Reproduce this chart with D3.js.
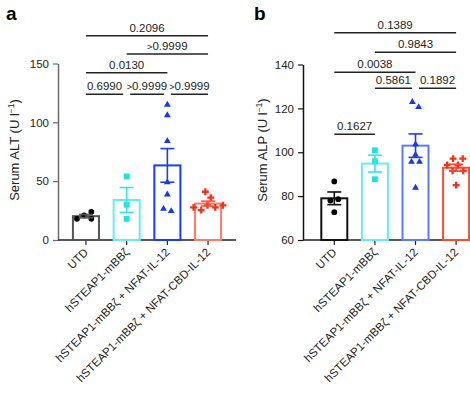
<!DOCTYPE html>
<html>
<head>
<meta charset="utf-8">
<script src="https://cdn.jsdelivr.net/npm/d3@7"></script>
<style>
  body { margin: 0; background: #fff; }
  svg { display: block; font-family: "Liberation Sans", Arial, sans-serif; }
</style>
</head>
<body>
<script>
// categories shared by both panels
const categories = ["UTD", "hSTEAP1-mBB\u03b6", "hSTEAP1-mBB\u03b6 + NFAT-IL-12", "hSTEAP1-mBB\u03b6 + NFAT-CBD-IL-12"];

// panel a: serum ALT, one array per group
const altUTD = [21, 18, 18, 24];
const altMBBz = [54, 30, 18];
const altNfat = [115, 106, 84, 49, 38.7, 24.6, 26.5];
const altCbd = [41, 36, 27.7, 29.5, 27.7, 29.5, 25.4];
const altTicks = [0, 50, 100, 150];
const altPairs = [[0, 1], [1, 2], [2, 3], [0, 2], [1, 3], [0, 3]];
const altP = ["0.6990", ">0.9999", ">0.9999", "0.0130", ">0.9999", "0.2096"];

// panel b: serum ALP
const alpUTD = [86.7, 78.6, 78, 72.7];
const alpMBBz = [100.9, 95.9, 87.7];
const alpNfat = [122.9, 120.6, 103.6, 98.9, 95.6, 95.6, 83.8];
const alpCbd = [97.1, 97.1, 94.2, 94.2, 91.5, 91.5, 85];
const alpTicks = [60, 80, 100, 120, 140];
const alpPairs = [[0, 1], [1, 2], [2, 3], [0, 2], [1, 3], [0, 3]];
const alpP = ["0.1627", "0.5861", "0.1892", "0.0038", "0.9843", "0.1389"];

const W = 470, H = 395;
const svg = d3.select("body").append("svg")
    .attr("width", W)
    .attr("height", H);

// symbols + colours per group
const symbols = [d3.symbolCircle, d3.symbolSquare, d3.symbolTriangle, d3.symbolCross];
const symSize = [26, 34, 20, 26];
const markColor = ["#000000", "#19e3e3", "#1236ff", "#ff2d14"];

function drawPanel(opt) {
    const g = svg.append("g");
    const y = d3.scaleLinear().domain(opt.domain).range([240, opt.yTop]);
    const x = d3.scaleBand().domain(categories)
        .range(opt.xRange)
        .paddingInner(0.36)
        .paddingOuter(0.18);

    // y axis
    const yAxis = g.append("g")
        .attr("transform", `translate(${opt.axisX},0)`)
        .call(d3.axisLeft(y).tickValues(opt.ticks).tickSize(5).tickSizeOuter(0).tickPadding(4));
    yAxis.select(".domain").attr("stroke", opt.axisColor).attr("stroke-width", 1.5);
    yAxis.selectAll(".tick line").attr("stroke", opt.axisColor).attr("stroke-width", 1.2);
    yAxis.selectAll(".tick text").attr("font-size", 11.5).attr("fill", "#222")
        .attr("font-family", "Liberation Sans, Arial, sans-serif");

    // x axis line + ticks
    g.append("line")
        .attr("x1", opt.axisX).attr("x2", opt.axisEnd)
        .attr("y1", 240).attr("y2", 240)
        .attr("stroke", "#222").attr("stroke-width", 1.5);
    categories.forEach(c => {
        const cx = x(c) + x.bandwidth() / 2;
        g.append("line")
            .attr("x1", cx).attr("x2", cx)
            .attr("y1", 240).attr("y2", 245)
            .attr("stroke", "#222").attr("stroke-width", 1.2);
        g.append("text")
            .attr("transform", `translate(${cx + 3},${253}) rotate(-45)`)
            .attr("text-anchor", "end")
            .attr("font-size", 11.5)
            .attr("fill", "#222")
            .text(c);
    });

    // bars, error bars and points
    opt.groups.forEach((vals, i) => {
        const c = categories[i];
        const cx = x(c) + x.bandwidth() / 2;
        const mean = d3.mean(vals);
        const sem = d3.deviation(vals) / Math.sqrt(vals.length);

        g.append("rect")
            .attr("x", x(c))
            .attr("y", y(mean))
            .attr("width", x.bandwidth())
            .attr("height", 240 - y(mean))
            .attr("fill", "none")
            .attr("stroke", opt.barColor[i])
            .attr("stroke-width", 2);

        // simple beeswarm for the dots
        const nodes = vals.map((v, k) => ({ x: cx + (k % 2 ? 1 : -1) * 0.3 * k, fy: y(v), y: y(v) }));
        const sim = d3.forceSimulation(nodes)
            .force("x", d3.forceX(cx).strength(0.1))
            .force("collide", d3.forceCollide(4))
            .stop();
        for (let t = 0; t < 300; t++) sim.tick();

        g.append("g").selectAll("path")
            .data(nodes)
            .join("path")
            .attr("transform", d => `translate(${d.x},${d.fy})`)
            .attr("d", d3.symbol().type(symbols[i]).size(symSize[i]))
            .attr("fill", markColor[i]);

        const eg = g.append("g")
            .attr("stroke", opt.errColor[i])
            .attr("stroke-width", 1.6);
        eg.append("line").attr("x1", cx).attr("x2", cx)
            .attr("y1", y(mean + sem)).attr("y2", y(mean - sem));
        [mean + sem, mean - sem].forEach(v => {
            eg.append("line").attr("x1", cx - 7).attr("x2", cx + 7)
                .attr("y1", y(v)).attr("y2", y(v));
        });
    });

    // significance brackets
    opt.pairs.forEach((p, k) => {
        const ly = opt.bracketY[k];
        let x1 = x(categories[p[0]]) + x.bandwidth() / 2;
        let x2 = x(categories[p[1]]) + x.bandwidth() / 2;
        // shorten ends shared with a neighbour on the same row
        opt.pairs.forEach((q, m) => {
            if (m === k || opt.bracketY[m] !== ly) return;
            if (q[1] === p[0]) x1 += 3.5;
            if (q[0] === p[1]) x2 -= 3.5;
        });
        g.append("line")
            .attr("x1", x1).attr("x2", x2)
            .attr("y1", ly).attr("y2", ly)
            .attr("stroke", "#222").attr("stroke-width", 1.4);
        const txt = g.append("text")
            .attr("x", (x1 + x2) / 2)
            .attr("y", ly - 4)
            .attr("text-anchor", "middle")
            .attr("font-size", 11.5)
            .attr("fill", "#222");
        const label = opt.pvals[k];
        if (label[0] === ">") {
            txt.append("tspan").attr("font-size", 9).text(">");
            txt.append("tspan").text(label.slice(1));
        } else {
            txt.text(label);
        }
    });

    // y title with superscript
    const t = g.append("text")
        .attr("transform", `translate(${opt.titleX},${opt.titleY}) rotate(-90)`)
        .attr("text-anchor", "middle")
        .attr("font-size", 13)
        .attr("fill", "#222");
    t.append("tspan").text(opt.title + " (U l");
    t.append("tspan").attr("dy", -4.5).attr("font-size", 8.5).text("\u22121");
    t.append("tspan").attr("dy", 4.5).text(")");

    // panel letter
    g.append("text")
        .attr("x", opt.letterX).attr("y", 20)
        .attr("font-size", 19)
        .attr("font-weight", "bold")
        .attr("fill", "#000")
        .text(opt.letter);
}

drawPanel({
    letter: "a", letterX: 6,
    groups: [altUTD, altMBBz, altNfat, altCbd],
    domain: [0, 150], ticks: altTicks, yTop: 63.5,
    xRange: [65.6, 228.4], axisX: 58, axisEnd: 236,
    axisColor: "#6a6a6a",
    barColor: ["#555555", "#66eeee", "#1a3cff", "#ff7a6a"],
    errColor: ["#555555", "#33e6e6", "#1a3cff", "#ff5540"],
    pairs: altPairs, pvals: altP,
    bracketY: [94.3, 94.3, 94.3, 72.7, 54, 35.7],
    title: "Serum ALT", titleX: 18.5, titleY: 150
});

drawPanel({
    letter: "b", letterX: 254,
    groups: [alpUTD, alpMBBz, alpNfat, alpCbd],
    domain: [60, 140], ticks: alpTicks, yTop: 64.5,
    xRange: [314, 476.4], axisX: 303, axisEnd: 470,
    axisColor: "#111111",
    barColor: ["#111111", "#66eeee", "#5b7bff", "#ff4a30"],
    errColor: ["#111111", "#33e6e6", "#1a3cff", "#ff4a30"],
    pairs: alpPairs, pvals: alpP,
    bracketY: [134.3, 88.3, 88.3, 72.3, 52.3, 32.7],
    title: "Serum ALP", titleX: 266.5, titleY: 150
});
</script>
</body>
</html>
